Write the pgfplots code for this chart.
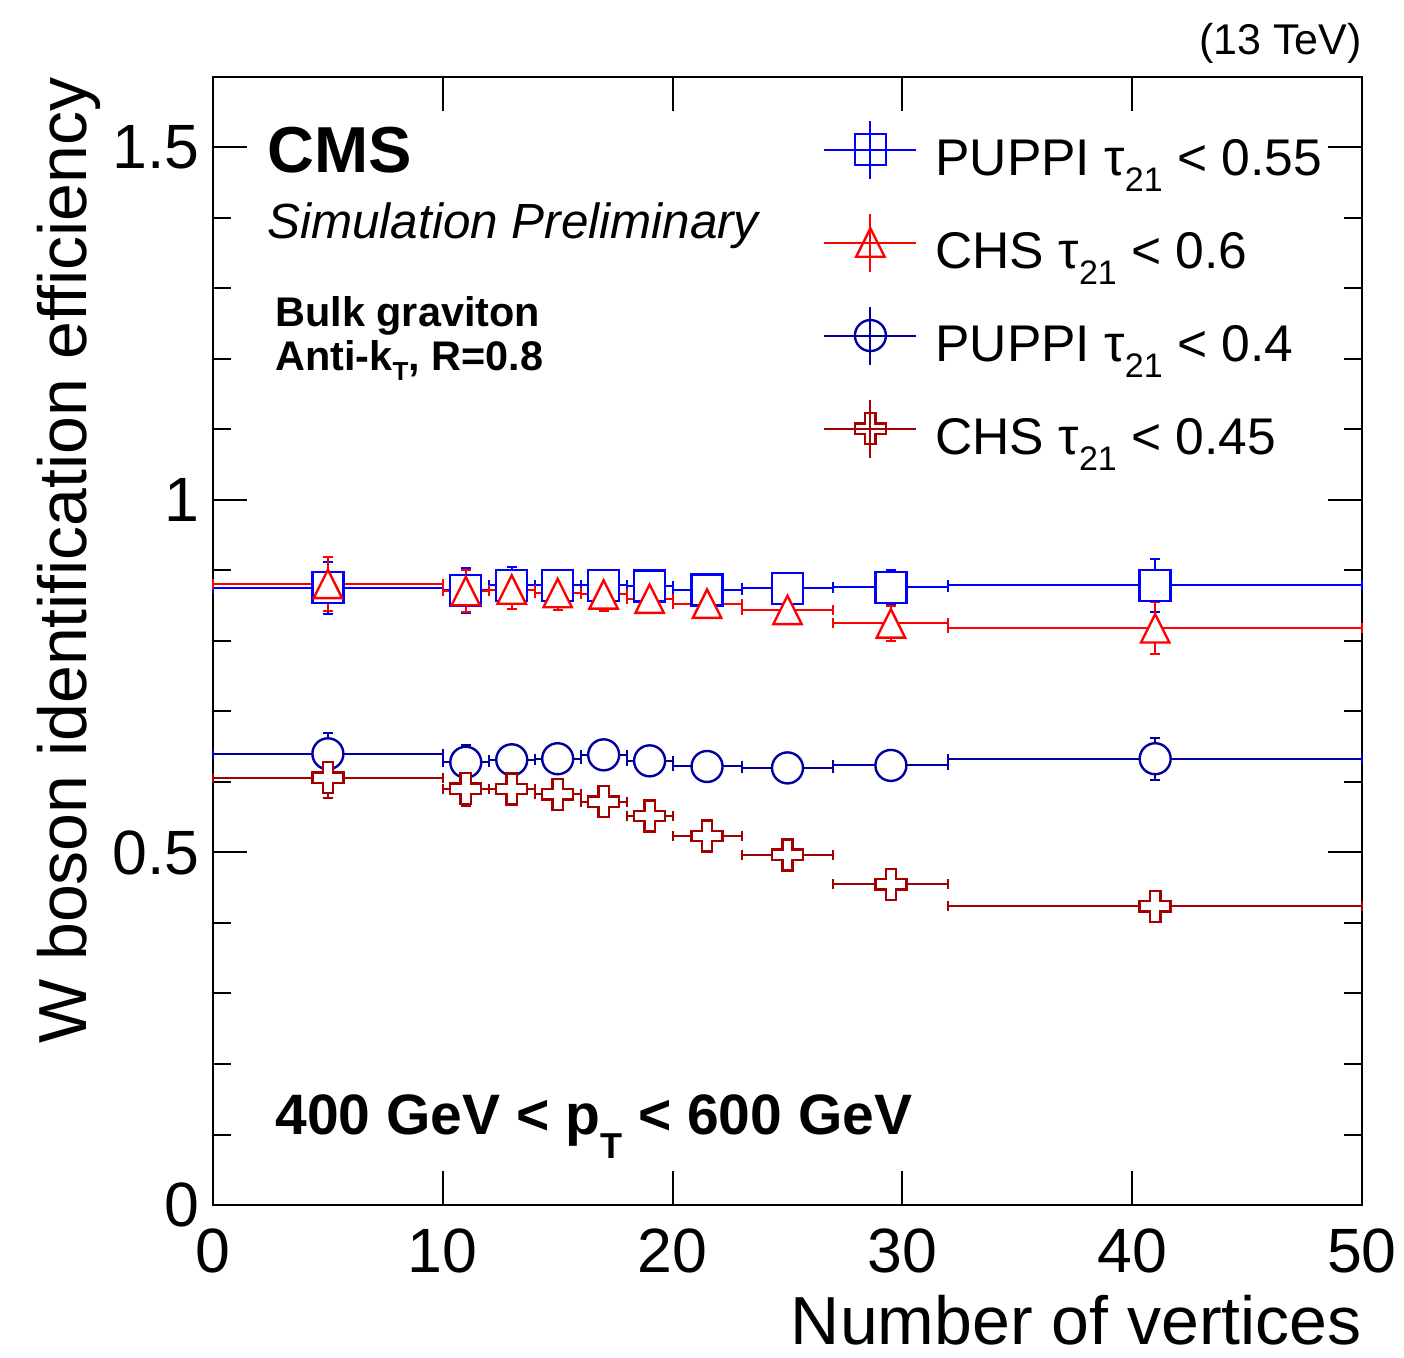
\documentclass[border=0pt]{standalone}
\usepackage{fontspec}
\setmainfont{Liberation Sans}
\usepackage{pgfplots}
\pgfplotsset{compat=1.18}
\usepackage{pgfplotstable}

\definecolor{rblue}{RGB}{0,0,255}
\definecolor{rred}{RGB}{255,0,0}
\definecolor{dblue}{RGB}{0,0,160}
\definecolor{dred}{RGB}{165,0,0}

\pgfdeclareplotmark{ocross}{%
  \pgfpathmoveto{\pgfqpoint{-0.333\pgfplotmarksize}{\pgfplotmarksize}}%
  \pgfpathlineto{\pgfqpoint{0.333\pgfplotmarksize}{\pgfplotmarksize}}%
  \pgfpathlineto{\pgfqpoint{0.333\pgfplotmarksize}{0.333\pgfplotmarksize}}%
  \pgfpathlineto{\pgfqpoint{\pgfplotmarksize}{0.333\pgfplotmarksize}}%
  \pgfpathlineto{\pgfqpoint{\pgfplotmarksize}{-0.333\pgfplotmarksize}}%
  \pgfpathlineto{\pgfqpoint{0.333\pgfplotmarksize}{-0.333\pgfplotmarksize}}%
  \pgfpathlineto{\pgfqpoint{0.333\pgfplotmarksize}{-\pgfplotmarksize}}%
  \pgfpathlineto{\pgfqpoint{-0.333\pgfplotmarksize}{-\pgfplotmarksize}}%
  \pgfpathlineto{\pgfqpoint{-0.333\pgfplotmarksize}{-0.333\pgfplotmarksize}}%
  \pgfpathlineto{\pgfqpoint{-\pgfplotmarksize}{-0.333\pgfplotmarksize}}%
  \pgfpathlineto{\pgfqpoint{-\pgfplotmarksize}{0.333\pgfplotmarksize}}%
  \pgfpathlineto{\pgfqpoint{-0.333\pgfplotmarksize}{0.333\pgfplotmarksize}}%
  \pgfpathclose
  \pgfusepathqfillstroke
}
\pgfdeclareplotmark{otri}{%
  \pgfpathmoveto{\pgfqpoint{0pt}{\pgfplotmarksize}}%
  \pgfpathlineto{\pgfqpoint{\pgfplotmarksize}{-\pgfplotmarksize}}%
  \pgfpathlineto{\pgfqpoint{-\pgfplotmarksize}{-\pgfplotmarksize}}%
  \pgfpathclose
  \pgfusepathqfillstroke
}

\newcommand\lsub[1]{\raisebox{-8bp}{\fontsize{17bp}{17bp}\selectfont #1}}

\pgfplotstableread{
x ex y ey
5 5 0.8755 0.037
11 1 0.8717 0.032
13 1 0.879 0.026
15 1 0.879 0.022
17 1 0.879 0.020
19 1 0.878 0.015
21.5 1.5 0.8726 0.012
25 2 0.8745 0.012
29.5 2.5 0.876 0.025
41 9 0.879 0.038
}\puppiA
\pgfplotstableread{
x ex y ey
5 5 0.881 0.038
11 1 0.8708 0.030
13 1 0.873 0.027
15 1 0.868 0.024
17 1 0.866 0.023
19 1 0.860 0.016
21.5 1.5 0.853 0.015
25 2 0.844 0.017
29.5 2.5 0.825 0.025
41 9 0.818 0.037
}\chsA
\pgfplotstableread{
x ex y ey
5 5 0.640 0.029
11 1 0.628 0.025
13 1 0.6315 0.015
15 1 0.633 0.015
17 1 0.6385 0.015
19 1 0.630 0.015
21.5 1.5 0.622 0.012
25 2 0.620 0.012
29.5 2.5 0.6235 0.015
41 9 0.633 0.030
}\puppiB
\pgfplotstableread{
x ex y ey
5 5 0.606 0.029
11 1 0.5906 0.024
13 1 0.590 0.020
15 1 0.5826 0.015
17 1 0.572 0.015
19 1 0.5516 0.015
21.5 1.5 0.5235 0.015
25 2 0.4967 0.015
29.5 2.5 0.455 0.018
41 9 0.4235 0.022
}\chsB

\begin{document}
\begin{tikzpicture}
\begin{axis}[
  width=574.5bp, height=564bp, scale only axis,
  clip=false,
  xmin=0, xmax=50, ymin=0, ymax=1.6,
  xtick={0,10,20,30,40,50},
  ytick={0,0.5,1,1.5},
  yticklabels={0,0.5,1,1.5},
  minor y tick num=4,
  xtick pos=both, ytick pos=both,
  tick align=inside,
  major tick length=17bp, minor tick length=9bp,
  every tick/.style={black, line width=1bp},
  axis line style={line width=1.2bp},
  /pgf/number format/assume math mode=true,
  tick label style={font=\fontsize{31.3bp}{31.3bp}\selectfont, inner sep=0pt},
  xticklabel style={yshift=-11.5bp},
  yticklabel style={xshift=-6.5bp},
  xlabel={Number of vertices},
  xlabel style={at={([yshift=-69.5bp]axis description cs:1,0)}, anchor=base east, inner sep=0pt, font=\fontsize{34bp}{34bp}\selectfont},
  ylabel={W boson identification efficiency},
  ylabel style={at={([xshift=-63bp]axis description cs:0,1)}, anchor=base east, inner sep=0pt, font=\fontsize{34bp}{34bp}\selectfont},
  legend image code/.code={
    \draw[#1, only marks] plot coordinates {(23bp,10.5bp)};
    \draw[#1, mark=none] (0bp,10.5bp) -- (46bp,10.5bp);
    \draw[#1, mark=none] (23bp,-4bp) -- (23bp,25bp);
  },
  legend cell align=left,
  legend style={at={(axis cs:26.545,1.5402)}, anchor=north west, draw=none, fill=none,
    inner sep=0pt, row sep=-2bp, column sep=9bp,
    font=\fontsize{25.8bp}{25.8bp}\selectfont,
    nodes={inner sep=0pt, text height=25.5bp, text depth=20.5bp}},
]
\addplot[rblue, line width=1bp, only marks, mark=square*, mark size=7.75bp,
  mark options={fill=white, line width=1.2bp, solid},
  error bars/.cd, x dir=both, x explicit, y dir=both, y explicit,
  error bar style={line width=1bp},
  error mark options={rotate=90, mark size=2.5bp, line width=1bp}]
  table[x=x, y=y, x error=ex, y error=ey]{\puppiA};
\addlegendentry{PUPPI τ\lsub{21} < 0.55}
\addplot[rred, line width=1bp, only marks, mark=otri, mark size=7.1bp,
  mark options={fill=white, line width=1.2bp, solid},
  error bars/.cd, x dir=both, x explicit, y dir=both, y explicit,
  error bar style={line width=1bp},
  error mark options={rotate=90, mark size=2.5bp, line width=1bp}]
  table[x=x, y=y, x error=ex, y error=ey]{\chsA};
\addlegendentry{CHS τ\lsub{21} < 0.6}
\addplot[dblue, line width=1bp, only marks, mark=*, mark size=7.75bp,
  mark options={fill=white, line width=1.2bp, solid},
  error bars/.cd, x dir=both, x explicit, y dir=both, y explicit,
  error bar style={line width=1bp},
  error mark options={rotate=90, mark size=2.5bp, line width=1bp}]
  table[x=x, y=y, x error=ex, y error=ey]{\puppiB};
\addlegendentry{PUPPI τ\lsub{21} < 0.4}
\addplot[dred, line width=1bp, only marks, mark=ocross, mark size=7.75bp,
  mark options={fill=white, line width=1.2bp, solid},
  error bars/.cd, x dir=both, x explicit, y dir=both, y explicit,
  error bar style={line width=1bp},
  error mark options={rotate=90, mark size=2.5bp, line width=1bp}]
  table[x=x, y=y, x error=ex, y error=ey]{\chsB};
\addlegendentry{CHS τ\lsub{21} < 0.45}

\node[anchor=base west, inner sep=0pt, font=\fontsize{32.5bp}{32.5bp}\selectfont\bfseries] at (axis cs:2.35,1.4652) {CMS};
\node[anchor=base west, inner sep=0pt, font=\fontsize{24.7bp}{24.7bp}\selectfont\itshape] at (axis cs:2.35,1.3716) {Simulation Preliminary};
\node[anchor=base west, inner sep=0pt, font=\fontsize{20.7bp}{20.7bp}\selectfont\bfseries] at (axis cs:2.70,1.2454) {Bulk graviton};
\node[anchor=base west, inner sep=0pt, font=\fontsize{20.7bp}{20.7bp}\selectfont\bfseries] at (axis cs:2.70,1.183) {Anti-k\raisebox{-5bp}{\fontsize{13bp}{13bp}\selectfont T}, R=0.8};
\node[anchor=base west, inner sep=0pt, font=\fontsize{28.5bp}{28.5bp}\selectfont\bfseries] at (axis cs:2.70,0.1007) {400 GeV < p\raisebox{-12bp}{\fontsize{18bp}{18bp}\selectfont T} < 600 GeV};
\node[anchor=base east, inner sep=0pt, font=\fontsize{21.5bp}{21.5bp}\selectfont] at ([yshift=11bp]rel axis cs:1,1) {(13 TeV)};
\coordinate (bl) at (rel axis cs:0,0);
\coordinate (tr) at (rel axis cs:1,1);
\end{axis}
\pgfresetboundingbox
\path ([shift={(-106.5bp,-76.5bp)}]bl) rectangle ([shift={(21bp,38.5bp)}]tr);
\end{tikzpicture}
\end{document}
